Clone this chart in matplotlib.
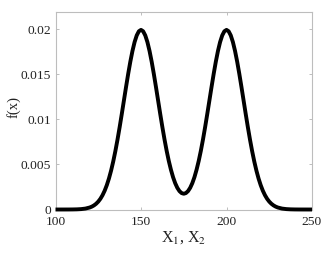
import matplotlib
matplotlib.use("Agg")
import matplotlib.pyplot as plt

plt.rcParams['font.family'] = ['Liberation Serif', 'DejaVu Serif']
plt.rcParams['mathtext.fontset'] = 'stix'

# x values (X1, X2) and read density values f(x)
x_vals = [100, 102.5, 105, 107.5, 110, 112.5, 115, 117.5,
          120, 121.25, 122.5, 123.75, 125, 126.25, 127.5, 128.75,
          130, 131.25, 132.5, 133.75, 135, 136.25, 137.5, 138.75,
          140, 141.25, 142.5, 143.75, 145, 146.25, 147.5, 148.75,
          150, 151.25, 152.5, 153.75, 155, 156.25, 157.5, 158.75,
          160, 161.25, 162.5, 163.75, 165, 166.25, 167.5, 168.75,
          170, 171.25, 172.5, 173.75, 175, 176.25, 177.5, 178.75,
          180, 181.25, 182.5, 183.75, 185, 186.25, 187.5, 188.75,
          190, 191.25, 192.5, 193.75, 195, 196.25, 197.5, 198.75,
          200, 201.25, 202.5, 203.75, 205, 206.25, 207.5, 208.75,
          210, 211.25, 212.5, 213.75, 215, 216.25, 217.5, 218.75,
          220, 221.25, 222.5, 223.75, 225, 226.25, 227.5, 228.75,
          230, 232.5, 235, 237.5, 240, 242.5, 245, 247.5, 250]
f_vals = [0.0, 0.0000002, 0.0000008, 0.0000024, 0.0000067, 0.0000176, 0.0000436, 0.000102,
          0.000222, 0.000320, 0.000455, 0.000636, 0.000876, 0.001188, 0.001587, 0.002086,
          0.002700, 0.003439, 0.004314, 0.005327, 0.006476, 0.007751, 0.009132, 0.010594,
          0.012099, 0.013603, 0.015057, 0.016408, 0.017603, 0.018593, 0.019333, 0.019792,
          0.019947, 0.019792, 0.019333, 0.018593, 0.017603, 0.016408, 0.015057, 0.013606,
          0.012106, 0.010605, 0.009150, 0.007780, 0.006520, 0.005394, 0.004420, 0.003590,
          0.002920, 0.002406, 0.002040, 0.001824, 0.001750, 0.001824, 0.002040, 0.002406,
          0.002920, 0.003590, 0.004420, 0.005394, 0.006520, 0.007780, 0.009150, 0.010605,
          0.012106, 0.013606, 0.015057, 0.016408, 0.017603, 0.018593, 0.019333, 0.019792,
          0.019947, 0.019792, 0.019333, 0.018593, 0.017603, 0.016408, 0.015057, 0.013603,
          0.012099, 0.010594, 0.009132, 0.007751, 0.006476, 0.005327, 0.004314, 0.003439,
          0.002700, 0.002086, 0.001587, 0.001188, 0.000876, 0.000636, 0.000455, 0.000320,
          0.000222, 0.000102, 0.0000436, 0.0000176, 0.0000067, 0.0000024, 0.0000008, 0.0000002, 0.0]
x_ticks = [100, 150, 200, 250]
y_ticks = [0, 0.005, 0.01, 0.015, 0.02]
y_tick_labels = ['0', '0.005', '0.01', '0.015', '0.02']

fig = plt.figure(figsize=(3.32, 2.59), dpi=100)
ax = fig.add_axes([55.5/332, 1 - 209.5/259, (312 - 55.5)/332, (209.5 - 12.3)/259])
ax.plot(x_vals, f_vals, color='black', lw=2.8, solid_capstyle='butt',
        solid_joinstyle='round', clip_on=False, zorder=3)
ax.set_xlim(100, 250)
ax.set_ylim(0, 0.0219)
ax.set_xticks(x_ticks)
ax.set_xticklabels([str(t) for t in x_ticks])
ax.set_yticks(y_ticks)
ax.set_yticklabels(y_tick_labels)
for s in ax.spines.values():
    s.set_color('#bdbdbd')
    s.set_linewidth(0.8)
ax.tick_params(direction='in', length=2.5, width=0.7, color='#bdbdbd',
               labelsize=9.7, labelcolor='#222222', top=True, right=True)
ax.tick_params(axis='x', pad=4.5)
ax.tick_params(axis='y', pad=3)
ax.set_xlabel('X$_1$, X$_2$', fontsize=11.5, color='#222222', labelpad=1)
ax.set_ylabel('f(x)', fontsize=10.5, color='#222222')
ax.yaxis.set_label_coords(-0.137, 0.52)
fig.savefig('out.png', dpi=100)
